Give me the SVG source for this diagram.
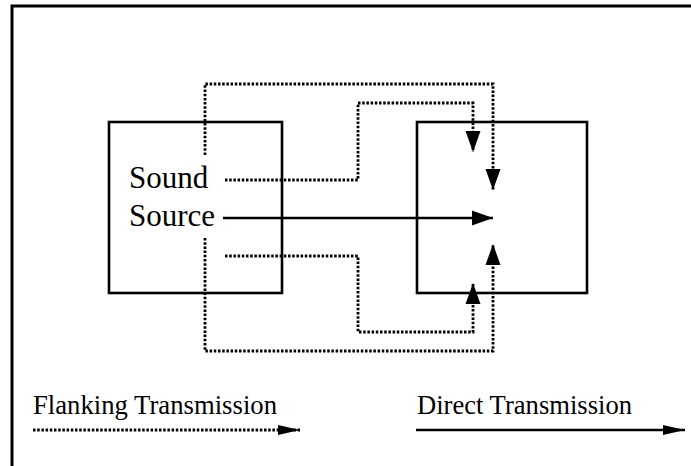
<svg xmlns="http://www.w3.org/2000/svg" width="691" height="466" viewBox="0 0 691 466">
<style>
.box{fill:none;stroke:#000;stroke-width:2.6}
.solid{fill:none;stroke:#000;stroke-width:2.6}
.dot{fill:none;stroke:#000;stroke-width:2.8;stroke-dasharray:2.5 1.7}
.lbl{font-family:"Liberation Serif","Times New Roman",serif;fill:#000}
</style>
<defs>
<marker id="ah" markerUnits="userSpaceOnUse" markerWidth="24" markerHeight="18" refX="21" refY="7.5" orient="auto" overflow="visible">
<path d="M0,0 L21,7.5 L0,15 z" fill="#000"/>
</marker>
<marker id="ahs" markerUnits="userSpaceOnUse" markerWidth="24" markerHeight="12" refX="22" refY="5" orient="auto" overflow="visible">
<path d="M0,0 L22,5 L0,10 z" fill="#000"/>
</marker>
</defs>
<rect x="12" y="6" width="800" height="600" fill="none" stroke="#000" stroke-width="3"/>
<g id="source-room">
<rect class="box" x="109" y="122" width="173" height="171"/>
<text class="lbl" x="129" y="188" font-size="31">Sound</text>
<text class="lbl" x="129" y="226" font-size="31">Source</text>
</g>
<g id="receiving-room">
<rect class="box" x="417" y="122" width="170" height="171"/>
</g>
<g id="connectors">
<path class="dot" d="M205,155 V84 H493 V190" marker-end="url(#ah)"/>
<path class="dot" d="M225,180 H358 V103 H473 V152" marker-end="url(#ah)"/>
<path class="solid" d="M223,218 H493" marker-end="url(#ah)"/>
<path class="dot" d="M225,256 H358 V332 H473 V283" marker-end="url(#ah)"/>
<path class="dot" d="M205,238 V351 H493 V244" marker-end="url(#ah)"/>
</g>
<g id="legend">
<text class="lbl" x="33" y="414" font-size="28" textLength="244" lengthAdjust="spacingAndGlyphs">Flanking Transmission</text>
<path class="dot" d="M33,430 H300" marker-end="url(#ahs)"/>
<text class="lbl" x="417" y="414" font-size="28" textLength="215" lengthAdjust="spacingAndGlyphs">Direct Transmission</text>
<path class="solid" d="M416,430 H685" marker-end="url(#ahs)"/>
</g>
</svg>
